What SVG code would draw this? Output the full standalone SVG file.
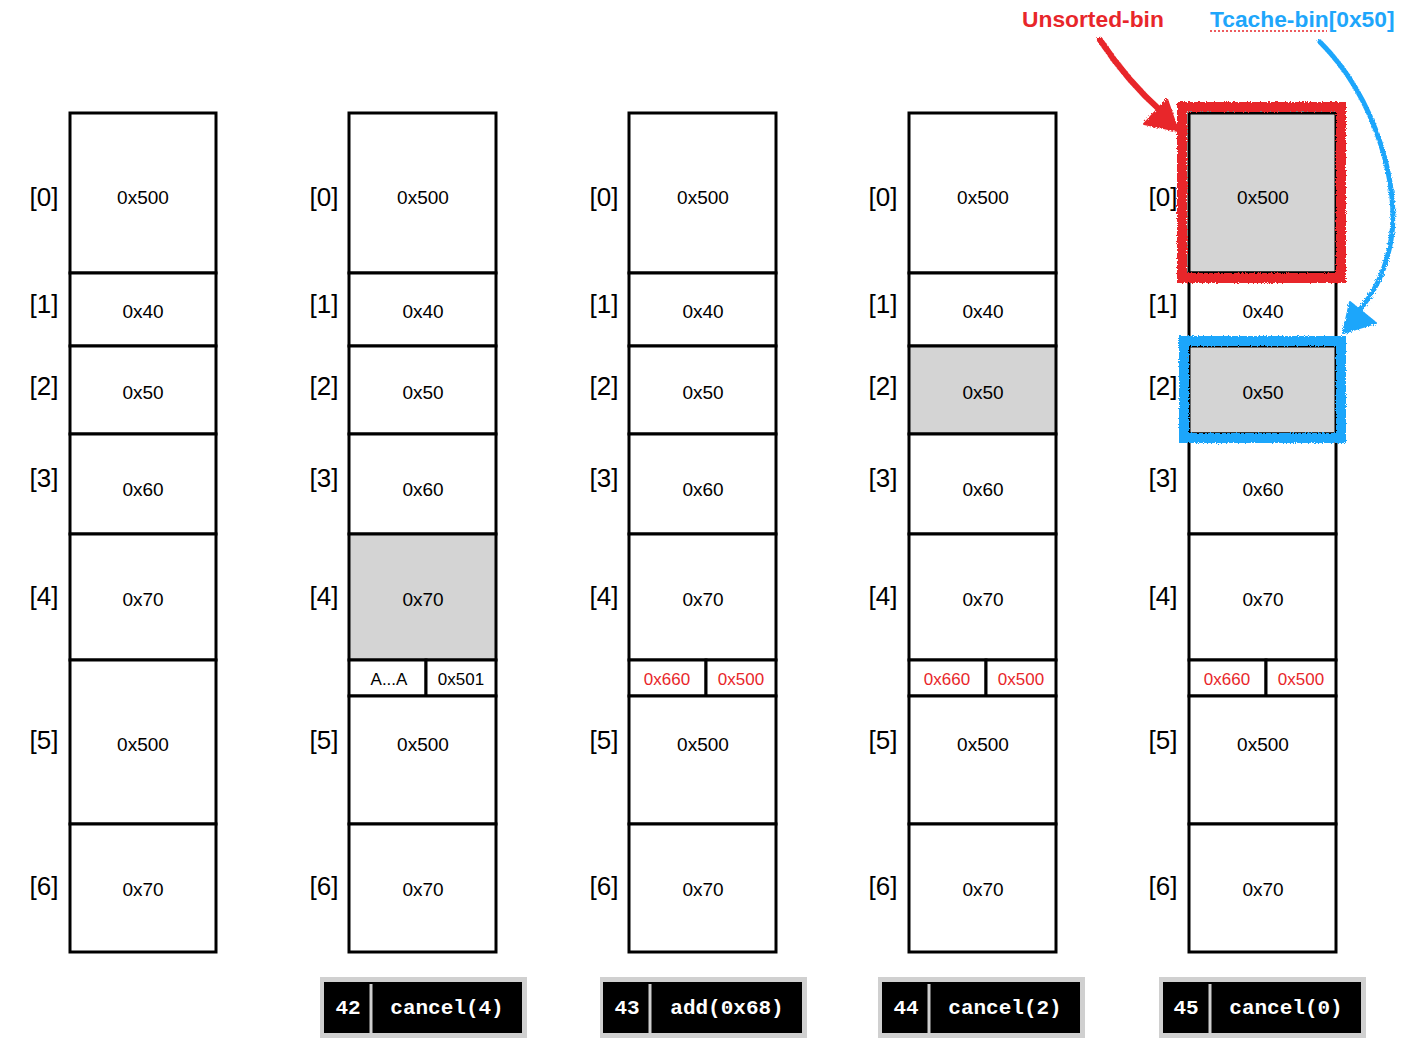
<svg xmlns="http://www.w3.org/2000/svg" width="1404" height="1056" viewBox="0 0 1404 1056">
<defs>
<style>
.cell{fill:#fff;stroke:#000;stroke-width:3}
.gray{fill:#d4d4d4;stroke:#000;stroke-width:3}
.idx{font-family:"Liberation Sans",Arial,sans-serif;font-size:26px;fill:#000;text-anchor:middle}
.val{font-family:"Liberation Sans",Arial,sans-serif;font-size:19px;fill:#000;text-anchor:middle}
.sm{font-family:"Liberation Sans",Arial,sans-serif;font-size:17px;fill:#000;text-anchor:middle}
.red{fill:#e8262a}
.op{font-family:"Liberation Mono","Courier New",monospace;font-weight:bold;font-size:21px;fill:#fff;text-anchor:middle}
.lbl{font-family:"Liberation Sans",Arial,sans-serif;font-weight:bold;font-size:22.8px}
.shadow{fill:#d0d0d0}
.blk{fill:#000}
.sep{stroke:#cfcfcf;stroke-width:3}
</style>
<filter id="rough" x="-10%" y="-10%" width="120%" height="120%">
<feTurbulence type="fractalNoise" baseFrequency="0.7" numOctaves="2" seed="3"/>
<feDisplacementMap in="SourceGraphic" scale="4"/>
</filter>
</defs>
<rect width="1404" height="1056" fill="#fff"/>

<g id="col0">
<rect class="cell" x="70" y="113" width="146" height="160"/>
<rect class="cell" x="70" y="273" width="146" height="73"/>
<rect class="cell" x="70" y="346" width="146" height="88"/>
<rect class="cell" x="70" y="434" width="146" height="100"/>
<rect class="cell" x="70" y="534" width="146" height="126"/>
<rect class="cell" x="70" y="660" width="146" height="164"/>
<rect class="cell" x="70" y="824" width="146" height="128"/>
<text class="idx" x="44" y="206">[0]</text><text class="idx" x="44" y="313">[1]</text><text class="idx" x="44" y="395">[2]</text><text class="idx" x="44" y="487">[3]</text><text class="idx" x="44" y="605">[4]</text><text class="idx" x="44" y="749">[5]</text><text class="idx" x="44" y="895">[6]</text>
<text class="val" x="143" y="204">0x500</text><text class="val" x="143" y="318">0x40</text><text class="val" x="143" y="399">0x50</text><text class="val" x="143" y="496">0x60</text><text class="val" x="143" y="606">0x70</text><text class="val" x="143" y="751">0x500</text><text class="val" x="143" y="896">0x70</text>
</g>

<g id="col1">
<rect class="cell" x="349" y="113" width="147" height="160"/>
<rect class="cell" x="349" y="273" width="147" height="73"/>
<rect class="cell" x="349" y="346" width="147" height="88"/>
<rect class="cell" x="349" y="434" width="147" height="100"/>
<rect class="gray" x="349" y="534" width="147" height="126"/>
<rect class="cell" x="349" y="660" width="77" height="36"/>
<rect class="cell" x="426" y="660" width="70" height="36"/>
<rect class="cell" x="349" y="696" width="147" height="128"/>
<rect class="cell" x="349" y="824" width="147" height="128"/>
<text class="idx" x="324" y="206">[0]</text><text class="idx" x="324" y="313">[1]</text><text class="idx" x="324" y="395">[2]</text><text class="idx" x="324" y="487">[3]</text><text class="idx" x="324" y="605">[4]</text><text class="idx" x="324" y="749">[5]</text><text class="idx" x="324" y="895">[6]</text>
<text class="val" x="423" y="204">0x500</text><text class="val" x="423" y="318">0x40</text><text class="val" x="423" y="399">0x50</text><text class="val" x="423" y="496">0x60</text><text class="val" x="423" y="606">0x70</text><text class="val" x="423" y="751">0x500</text><text class="val" x="423" y="896">0x70</text>
<text class="sm" x="389" y="685">A...A</text><text class="sm" x="461" y="685">0x501</text>
</g>

<g id="col2">
<rect class="cell" x="629" y="113" width="147" height="160"/>
<rect class="cell" x="629" y="273" width="147" height="73"/>
<rect class="cell" x="629" y="346" width="147" height="88"/>
<rect class="cell" x="629" y="434" width="147" height="100"/>
<rect class="cell" x="629" y="534" width="147" height="126"/>
<rect class="cell" x="629" y="660" width="77" height="36"/>
<rect class="cell" x="706" y="660" width="70" height="36"/>
<rect class="cell" x="629" y="696" width="147" height="128"/>
<rect class="cell" x="629" y="824" width="147" height="128"/>
<text class="idx" x="604" y="206">[0]</text><text class="idx" x="604" y="313">[1]</text><text class="idx" x="604" y="395">[2]</text><text class="idx" x="604" y="487">[3]</text><text class="idx" x="604" y="605">[4]</text><text class="idx" x="604" y="749">[5]</text><text class="idx" x="604" y="895">[6]</text>
<text class="val" x="703" y="204">0x500</text><text class="val" x="703" y="318">0x40</text><text class="val" x="703" y="399">0x50</text><text class="val" x="703" y="496">0x60</text><text class="val" x="703" y="606">0x70</text><text class="val" x="703" y="751">0x500</text><text class="val" x="703" y="896">0x70</text>
<text class="sm red" x="667" y="685">0x660</text><text class="sm red" x="741" y="685">0x500</text>
</g>

<g id="col3">
<rect class="cell" x="909" y="113" width="147" height="160"/>
<rect class="cell" x="909" y="273" width="147" height="73"/>
<rect class="gray" x="909" y="346" width="147" height="88"/>
<rect class="cell" x="909" y="434" width="147" height="100"/>
<rect class="cell" x="909" y="534" width="147" height="126"/>
<rect class="cell" x="909" y="660" width="77" height="36"/>
<rect class="cell" x="986" y="660" width="70" height="36"/>
<rect class="cell" x="909" y="696" width="147" height="128"/>
<rect class="cell" x="909" y="824" width="147" height="128"/>
<text class="idx" x="883" y="206">[0]</text><text class="idx" x="883" y="313">[1]</text><text class="idx" x="883" y="395">[2]</text><text class="idx" x="883" y="487">[3]</text><text class="idx" x="883" y="605">[4]</text><text class="idx" x="883" y="749">[5]</text><text class="idx" x="883" y="895">[6]</text>
<text class="val" x="983" y="204">0x500</text><text class="val" x="983" y="318">0x40</text><text class="val" x="983" y="399">0x50</text><text class="val" x="983" y="496">0x60</text><text class="val" x="983" y="606">0x70</text><text class="val" x="983" y="751">0x500</text><text class="val" x="983" y="896">0x70</text>
<text class="sm red" x="947" y="685">0x660</text><text class="sm red" x="1021" y="685">0x500</text>
</g>

<g id="col4">
<rect class="gray" x="1189" y="113" width="147" height="160"/>
<rect class="cell" x="1189" y="273" width="147" height="73"/>
<rect class="gray" x="1189" y="346" width="147" height="88"/>
<rect class="cell" x="1189" y="434" width="147" height="100"/>
<rect class="cell" x="1189" y="534" width="147" height="126"/>
<rect class="cell" x="1189" y="660" width="77" height="36"/>
<rect class="cell" x="1266" y="660" width="70" height="36"/>
<rect class="cell" x="1189" y="696" width="147" height="128"/>
<rect class="cell" x="1189" y="824" width="147" height="128"/>
<text class="idx" x="1163" y="206">[0]</text><text class="idx" x="1163" y="313">[1]</text><text class="idx" x="1163" y="395">[2]</text><text class="idx" x="1163" y="487">[3]</text><text class="idx" x="1163" y="605">[4]</text><text class="idx" x="1163" y="749">[5]</text><text class="idx" x="1163" y="895">[6]</text>
<text class="val" x="1263" y="204">0x500</text><text class="val" x="1263" y="318">0x40</text><text class="val" x="1263" y="399">0x50</text><text class="val" x="1263" y="496">0x60</text><text class="val" x="1263" y="606">0x70</text><text class="val" x="1263" y="751">0x500</text><text class="val" x="1263" y="896">0x70</text>
<text class="sm red" x="1227" y="685">0x660</text><text class="sm red" x="1301" y="685">0x500</text>
</g>

<g id="highlights" filter="url(#rough)">
<rect x="1182" y="107" width="159" height="171" fill="none" stroke="#e8262a" stroke-width="10"/>
<rect x="1184" y="341" width="157" height="97" fill="none" stroke="#1ea6fb" stroke-width="10"/>
</g>

<g id="op42">
<rect class="shadow" x="320" y="977" width="207" height="61"/>
<rect class="blk" x="324" y="982" width="198" height="51"/>
<line class="sep" x1="371" y1="984" x2="371" y2="1033"/>
<text class="op" x="348" y="1014">42</text><text class="op" x="447" y="1014">cancel(4)</text>
</g>
<g id="op43">
<rect class="shadow" x="600" y="977" width="207" height="61"/>
<rect class="blk" x="603" y="982" width="199" height="51"/>
<line class="sep" x1="650" y1="984" x2="650" y2="1033"/>
<text class="op" x="627" y="1014">43</text><text class="op" x="727" y="1014">add(0x68)</text>
</g>
<g id="op44">
<rect class="shadow" x="878" y="977" width="207" height="61"/>
<rect class="blk" x="882" y="982" width="198" height="51"/>
<line class="sep" x1="929" y1="984" x2="929" y2="1033"/>
<text class="op" x="906" y="1014">44</text><text class="op" x="1005" y="1014">cancel(2)</text>
</g>
<g id="op45">
<rect class="shadow" x="1159" y="977" width="207" height="61"/>
<rect class="blk" x="1163" y="982" width="198" height="51"/>
<line class="sep" x1="1210" y1="984" x2="1210" y2="1033"/>
<text class="op" x="1186" y="1014">45</text><text class="op" x="1286" y="1014">cancel(0)</text>
</g>

<g id="labels">
<text class="lbl" x="1022" y="27" fill="#e8262a">Unsorted-bin</text>
<text class="lbl" x="1210" y="27" fill="#1ea6fb">Tcache-bin[0x50]</text>
<line x1="1210" y1="31" x2="1327" y2="31" stroke="#e8262a" stroke-width="1.5" stroke-dasharray="2,2"/>
</g>

<g id="connectors" filter="url(#rough)">
<path d="M1100,40 Q1128,82 1162,112" fill="none" stroke="#e8262a" stroke-width="6" stroke-linecap="round"/>
<polygon points="1144,124 1167,99 1178,131" fill="#e8262a" stroke="#e8262a" stroke-width="2" stroke-linejoin="round"/>
<path d="M1320,42 C1378,100 1400,190 1391,240 C1385,275 1372,295 1358,312" fill="none" stroke="#1ea6fb" stroke-width="5" stroke-linecap="round"/>
<polygon points="1343,333 1350,302 1376,323" fill="#1ea6fb" stroke="#1ea6fb" stroke-width="2" stroke-linejoin="round"/>
</g>
</svg>
